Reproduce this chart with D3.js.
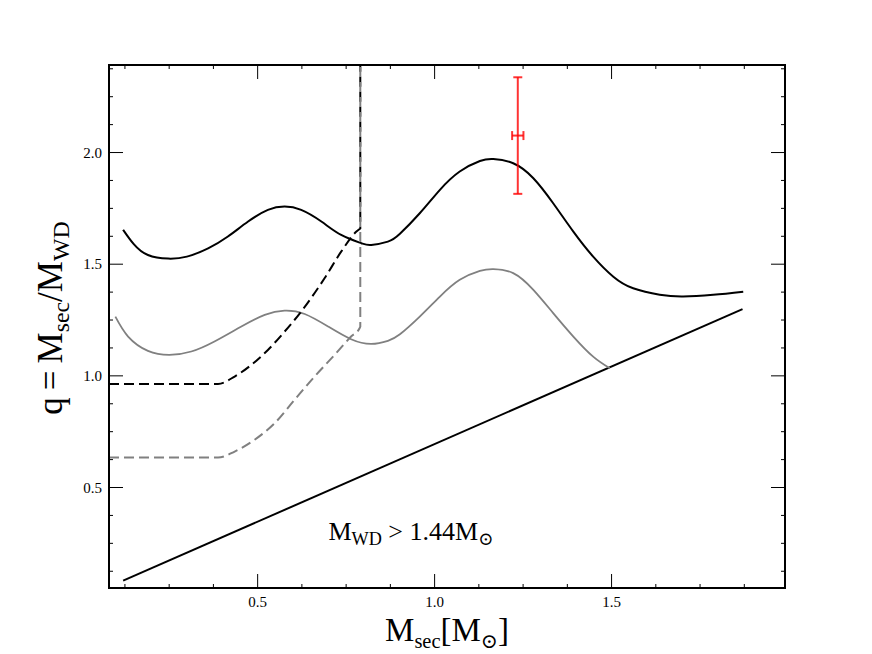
<!DOCTYPE html>
<html>
<head>
<meta charset="utf-8">
<script src="https://cdn.jsdelivr.net/npm/d3@7"></script>
<style>
  body { margin: 0; background: #fff; }
  svg text { font-family: "Liberation Serif", "DejaVu Serif", serif; fill: #000; }
</style>
</head>
<body>
<svg id="chart" width="872" height="654"></svg>
<script>
// upper solid curve (black)
var upperX = [0.12, 0.15, 0.19, 0.247, 0.30, 0.36, 0.416, 0.473, 0.529, 0.576, 0.623, 0.68, 0.736, 0.793, 0.821, 0.868, 0.902, 0.958, 1.015, 1.071, 1.128, 1.166, 1.222, 1.279, 1.335, 1.392, 1.448, 1.505, 1.561, 1.636, 1.702, 1.787, 1.872];
var upperQ = [1.654, 1.590, 1.541, 1.525, 1.534, 1.571, 1.624, 1.691, 1.743, 1.758, 1.743, 1.691, 1.631, 1.594, 1.586, 1.601, 1.636, 1.728, 1.833, 1.915, 1.962, 1.971, 1.952, 1.885, 1.773, 1.646, 1.534, 1.444, 1.392, 1.363, 1.355, 1.363, 1.377];

// lower solid curve (grey)
var lowerX = [0.098, 0.134, 0.19, 0.251, 0.3125, 0.378, 0.454, 0.52, 0.576, 0.633, 0.699, 0.764, 0.821, 0.868, 0.902, 0.958, 1.015, 1.071, 1.128, 1.166, 1.222, 1.279, 1.335, 1.392, 1.448, 1.495];
var lowerQ = [1.265, 1.176, 1.112, 1.094, 1.109, 1.154, 1.221, 1.273, 1.292, 1.277, 1.221, 1.164, 1.143, 1.157, 1.186, 1.265, 1.355, 1.430, 1.470, 1.478, 1.460, 1.385, 1.281, 1.176, 1.086, 1.034];

// dashed curves, they turn vertical at M = 0.79
var dashBlackX = [0.08, 0.388, 0.435, 0.482, 0.529, 0.576, 0.623, 0.689, 0.736, 0.779, 0.79];
var dashBlackQ = [0.964, 0.964, 0.997, 1.049, 1.116, 1.198, 1.288, 1.437, 1.556, 1.646, 1.66];
var dashGreyX = [0.08, 0.388, 0.435, 0.4915, 0.548, 0.6045, 0.661, 0.7175, 0.764, 0.788, 0.79];
var dashGreyQ = [0.634, 0.634, 0.661, 0.714, 0.788, 0.893, 0.997, 1.094, 1.176, 1.213, 1.22];
var dashTopQ = 2.5;

// q = M_sec / 1.44
var limitX = [0.12, 1.87];
var limitQ = [0.083, 1.299];

// measured point
var obsX = 1.235, obsXLow = 1.219, obsXHigh = 1.251;
var obsQ = 2.076, obsQLow = 1.815, obsQHigh = 2.337;

var xTicks = [0.5, 1.0, 1.5];
var yTicks = [0.5, 1.0, 1.5, 2.0];
var minorStep = 0.125;

var svg = d3.select("#chart");
var padL = 109, padR = 785, padT = 65, padB = 588;

var x = d3.scaleLinear().domain([0.08, 1.99]).range([padL, padR]);
var y = d3.scaleLinear().domain([0.05, 2.392]).range([padB, padT]);

svg.append("defs").append("clipPath").attr("id", "clip")
    .append("rect").attr("x", padL).attr("y", padT)
    .attr("width", padR - padL).attr("height", padB - padT);

var plot = svg.append("g").attr("clip-path", "url(#clip)");

function pts(xs, qs) {
    return xs.map(function(v, i) { return [v, qs[i]]; });
}

var line = d3.line()
    .x(function(d) { return x(d[0]); })
    .y(function(d) { return y(d[1]); })
    .curve(d3.curveMonotoneX);

// smoother spline for the wavy curves
var smooth = d3.line()
    .x(function(d) { return x(d[0]); })
    .y(function(d) { return y(d[1]); })
    .curve(d3.curveNatural);

plot.append("path").attr("d", line(pts(limitX, limitQ)))
    .attr("fill", "none").attr("stroke", "#000").attr("stroke-width", 2);

plot.append("path").attr("d", smooth(pts(lowerX, lowerQ)))
    .attr("fill", "none").attr("stroke", "#808080").attr("stroke-width", 1.8);

plot.append("path").attr("d", smooth(pts(upperX, upperQ)))
    .attr("fill", "none").attr("stroke", "#000").attr("stroke-width", 2);

// dashed: curve then straight up
function dashed(xs, qs, colour) {
    var p = line(pts(xs, qs));
    var last = xs.length - 1;
    p += "L" + x(xs[last]) + "," + y(dashTopQ);
    plot.append("path").attr("d", p)
        .attr("fill", "none").attr("stroke", colour).attr("stroke-width", 2)
        .attr("stroke-dasharray", "10,5");
}
dashed(dashBlackX, dashBlackQ, "#000");
dashed(dashGreyX, dashGreyQ, "#808080");

// error bar
var red = "rgba(255,0,0,0.8)";
var eb = svg.append("g").attr("stroke", red).attr("stroke-width", 2);
eb.append("line").attr("x1", x(obsX)).attr("x2", x(obsX)).attr("y1", y(obsQLow)).attr("y2", y(obsQHigh));
eb.append("line").attr("x1", x(obsXLow)).attr("x2", x(obsXHigh)).attr("y1", y(obsQ)).attr("y2", y(obsQ));
[obsQLow, obsQHigh].forEach(function(q) {
    eb.append("line").attr("x1", x(obsX) - 4.5).attr("x2", x(obsX) + 4.5).attr("y1", y(q)).attr("y2", y(q));
});
[obsXLow, obsXHigh].forEach(function(v) {
    eb.append("line").attr("x1", x(v)).attr("x2", x(v)).attr("y1", y(obsQ) - 4.5).attr("y2", y(obsQ) + 4.5);
});

// ticks, inward on all four sides
var xMinor = d3.range(0.125, 1.99, minorStep);
var yMinor = d3.range(0.125, 2.392, minorStep);
var ax = svg.append("g").attr("stroke", "#000").attr("stroke-width", 1);
function isMajor(v, list) {
    return list.some(function(t) { return Math.abs(t - v) < 1e-6; });
}
xMinor.forEach(function(v) {
    var len = isMajor(v, xTicks) ? 14 : 4;
    ax.append("line").attr("x1", x(v)).attr("x2", x(v)).attr("y1", padB).attr("y2", padB - len);
    ax.append("line").attr("x1", x(v)).attr("x2", x(v)).attr("y1", padT).attr("y2", padT + len);
});
yMinor.forEach(function(v) {
    var len = isMajor(v, yTicks) ? 14 : 4;
    ax.append("line").attr("y1", y(v)).attr("y2", y(v)).attr("x1", padL).attr("x2", padL + len);
    ax.append("line").attr("y1", y(v)).attr("y2", y(v)).attr("x1", padR).attr("x2", padR - len);
});

svg.append("rect").attr("x", padL).attr("y", padT)
    .attr("width", padR - padL).attr("height", padB - padT)
    .attr("fill", "none").attr("stroke", "#000").attr("stroke-width", 2);

svg.selectAll(".xt").data(xTicks).enter().append("text")
    .attr("x", function(d) { return x(d); }).attr("y", padB + 19)
    .attr("text-anchor", "middle").attr("font-size", 15)
    .text(function(d) { return d.toFixed(1); });

svg.selectAll(".yt").data(yTicks).enter().append("text")
    .attr("x", padL - 7).attr("y", function(d) { return y(d) + 5; })
    .attr("text-anchor", "end").attr("font-size", 15)
    .text(function(d) { return d.toFixed(1); });

// labels with subscripts
function label(g, parts, size, sub) {
    var t = g.append("text").attr("font-size", size);
    parts.forEach(function(p) {
        var s = t.append("tspan").text(p[0]);
        if (p[1] === "sub") s.attr("font-size", size * sub).attr("dy", size * 0.2);
        else if (p[1] === "up") s.attr("dy", -size * 0.2);
    });
    return t;
}

label(svg.append("g").attr("transform", "translate(447,641)"),
    [["M"], ["sec", "sub"], ["[M", "up"], ["\u2299", "sub"], ["]", "up"]], 33, 0.62)
    .attr("text-anchor", "middle");

label(svg.append("g").attr("transform", "translate(62,318) rotate(-90)"),
    [["q\u2009=\u2009M"], ["sec", "sub"], ["/M", "up"], ["WD", "sub"]], 35, 0.68)
    .attr("text-anchor", "middle");

label(svg.append("g").attr("transform", "translate(" + x(0.7) + "," + y(0.265) + ")"),
    [["M"], ["WD", "sub"], [" > 1.44M", "up"], ["\u2299", "sub"]], 26, 0.7);
</script>
</body>
</html>
